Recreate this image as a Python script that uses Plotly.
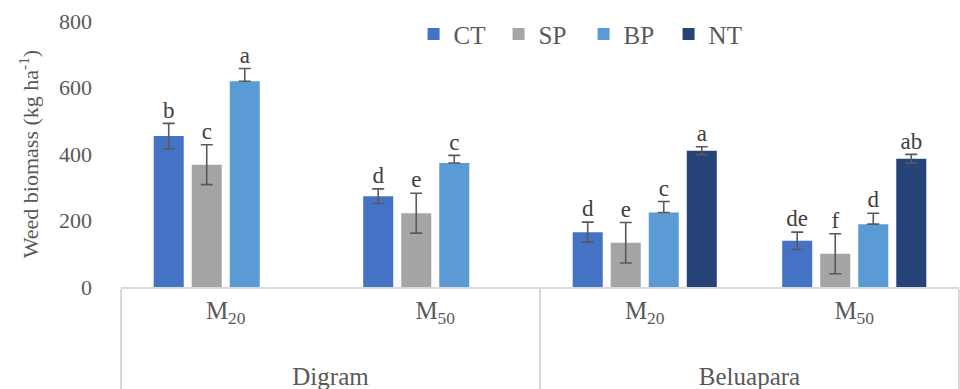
import plotly.graph_objects as go

sites = ["<br>Digram", "<br>Digram", "<br>Beluapara", "<br>Beluapara"]
mulch = ["M<sub>20</sub>", "M<sub>50</sub>", "M<sub>20</sub>", "M<sub>50</sub>"]
series = ["CT", "SP", "BP", "NT"]
colors = ["#4472C4", "#A5A5A5", "#5B9BD5", "#264478"]

CT = [454, 273, 165, 139]
CT_err = [38, 22, 30, 26]
SP = [368, 222, 133, 100]
SP_err = [60, 60, 61, 60]
BP = [619, 373, 224, 189]
BP_err_plus = [38, 23, 33, 33]
BP_err_minus = [0, 0, 0, 0]
NT = [None, None, 410, 386]
NT_err = [None, None, 12, 13]

CT_letters = ["b", "d", "d", "de"]
SP_letters = ["c", "e", "e", "f"]
BP_letters = ["a", "c", "c", "d"]
NT_letters = ["", "", "a", "ab"]

values = [CT, SP, BP, NT]
err_plus = [CT_err, SP_err, BP_err_plus, NT_err]
err_minus = [CT_err, SP_err, BP_err_minus, NT_err]
letters = [CT_letters, SP_letters, BP_letters, NT_letters]

FONT = "Liberation Serif"
TXT = "#595959"
x = [sites, mulch]

fig = go.Figure()
for name, col, v, ep, em in zip(series, colors, values, err_plus, err_minus):
    fig.add_trace(go.Bar(
        x=x, y=v, name=name, offsetgroup=name,
        marker=dict(color=col, line=dict(width=0)),
        error_y=dict(type="data", array=ep, arrayminus=em, symmetric=False,
                     color="#595959", thickness=1.6, width=6),
    ))

for name, v, ep, lab in zip(series, values, err_plus, letters):
    ytxt = [None if a is None else a + b for a, b in zip(v, ep)]
    fig.add_trace(go.Scatter(
        x=x, y=ytxt, mode="text", text=lab, offsetgroup=name,
        textposition="top center", showlegend=False, hoverinfo="skip",
        textfont=dict(family=FONT, size=23, color="#404040"),
    ))

fig.update_layout(
    width=960, height=389,
    margin=dict(l=121, r=1, t=21, b=102),
    barmode="group", bargap=0.274, bargroupgap=0.21,
    scattermode="group", scattergap=0.274,
    plot_bgcolor="white", paper_bgcolor="white",
    font=dict(family=FONT, color=TXT, size=20),
    legend=dict(orientation="h", x=0.552, xanchor="center", y=0.95, yanchor="middle",
                font=dict(family=FONT, size=25, color=TXT), entrywidth=40, itemwidth=30,
                traceorder="normal", bgcolor="rgba(0,0,0,0)"),
    showlegend=True,
)
fig.update_xaxes(showline=True, linecolor="#D9D9D9", linewidth=1.5, automargin=False,
                 dividercolor="#D9D9D9", dividerwidth=1.5,
                 tickfont=dict(family=FONT, size=25, color=TXT), showgrid=False)
fig.update_yaxes(range=[0, 800], tickvals=[0, 200, 400, 600, 800], showgrid=False,
                 zeroline=False, showline=False, ticklabelstandoff=28, automargin=False,
                 tickfont=dict(family=FONT, size=22, color=TXT),
                 title=dict(text="Weed biomass (kg ha<sup>-1</sup>)", standoff=14,
                            font=dict(family=FONT, size=22, color=TXT)))

fig.write_html("out.html", config={"displayModeBar": False},
               post_script="document.body.style.margin='0px';")
